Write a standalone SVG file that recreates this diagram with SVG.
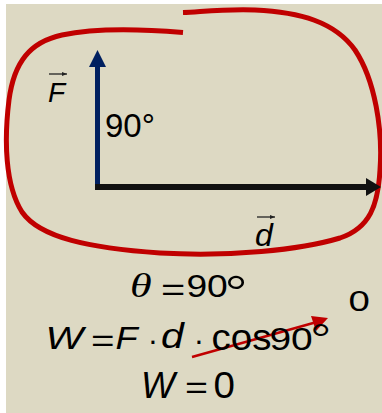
<svg xmlns="http://www.w3.org/2000/svg" width="382" height="413" viewBox="0 0 382 413">
  <style>
    .t { font-family: "Liberation Sans", Arial, sans-serif; fill: #000; }
    .i { font-style: italic; }
    .th { font-family: "Liberation Serif", "Times New Roman", serif; font-style: italic; fill: #000; }
    .deg { font-family: "Liberation Serif", "Times New Roman", serif; }
    .loop { fill: none; stroke: #C00000; stroke-width: 5; stroke-linecap: butt; }
    .vec { stroke: #222; stroke-width: 1.3; }
  </style>
  <defs>
    <marker id="vhead" markerWidth="6" markerHeight="6" refX="5" refY="3" orient="auto" markerUnits="userSpaceOnUse">
      <path d="M0,1 L5,3 L0,5 Z" fill="#222"/>
    </marker>
  </defs>
  <rect x="0" y="0" width="382" height="413" fill="#ffffff"/>
  <rect x="6" y="4" width="376" height="409" fill="#DDD9C3"/>

  <g id="loop">
    <path class="loop" d="M183,32.5 C140,29 95,28 62,35 C30,42 14,62 9,100 C4,140 5,185 22,212 C40,238 90,248 160,253 C230,257 300,250 340,238 C370,228 378,205 380,170 C383,130 375,80 355,50 C335,22 300,12 255,10 C220,9 200,12 183,12.5"/>
  </g>

  <g id="connectors">
    <g id="force-vector">
      <line x1="97.5" y1="189" x2="97.5" y2="64" stroke="#002060" stroke-width="5"/>
      <polygon points="97.5,50 106,67 89,67" fill="#002060"/>
    </g>
    <g id="displacement-vector">
      <line x1="95" y1="187" x2="368" y2="187" stroke="#111" stroke-width="6"/>
      <polygon points="381,187 366,178 366,196" fill="#111"/>
    </g>
    <g id="strike-arrow">
      <line x1="192" y1="357" x2="315" y2="322.5" stroke="#C00000" stroke-width="2.5"/>
      <polygon points="328,318 311,316 316,331" fill="#C00000"/>
    </g>
  </g>

  <g id="label-F">
    <line class="vec" x1="49" y1="74" x2="67" y2="74" marker-end="url(#vhead)"/>
    <text class="t i" x="48" y="102" font-size="28">F</text>
  </g>
  <g id="label-angle">
    <text class="t" x="105" y="137" font-size="33">90°</text>
  </g>
  <g id="label-d">
    <line class="vec" x1="257" y1="217" x2="275" y2="217" marker-end="url(#vhead)"/>
    <text class="t i" x="255" y="246" font-size="32">d</text>
  </g>

  <g id="eq-theta">
    <text class="th" transform="translate(130,297) scale(1.3,1)" font-size="34">θ</text>
    <text class="t" transform="translate(161,300) scale(1.34,1)" font-size="31">=</text>
    <text class="t" transform="translate(186.4,297) scale(1.2,1)" font-size="31">90<tspan class="deg" font-size="44" dx="-2" dy="8">°</tspan></text>
  </g>

  <g id="eq-work">
    <text class="t i" transform="translate(45.5,349) scale(1.25,1)" font-size="32">W</text>
    <text class="t" transform="translate(91,350.5) scale(1.3,1)" font-size="31">=</text>
    <text class="t i" transform="translate(115.5,349) scale(1.13,1)" font-size="32">F</text>
    <text class="t" x="147.7" y="350.5" font-size="31">·</text>
    <text class="t i" transform="translate(161,348) scale(1.17,1)" font-size="35">d</text>
    <text class="t" x="193.7" y="350.5" font-size="31">·</text>
    <text class="t" transform="translate(211.5,350) scale(1.04,1)" font-size="37">cos</text>
    <text class="t" transform="translate(269.4,350) scale(1.22,1)" font-size="32">90<tspan class="deg" font-size="40" dx="-1.5" dy="1">°</tspan></text>
  </g>

  <g id="eq-zero-note">
    <text class="t" transform="translate(348.4,311) scale(1.3,1)" font-size="29.5">0</text>
  </g>

  <g id="eq-result">
    <text class="t i" transform="translate(141,398)" font-size="36">W</text>
    <text class="t" transform="translate(185,398) scale(1.23,1)" font-size="32">=</text>
    <text class="t" transform="translate(213.4,398) scale(1.07,1)" font-size="36">0</text>
  </g>
</svg>
